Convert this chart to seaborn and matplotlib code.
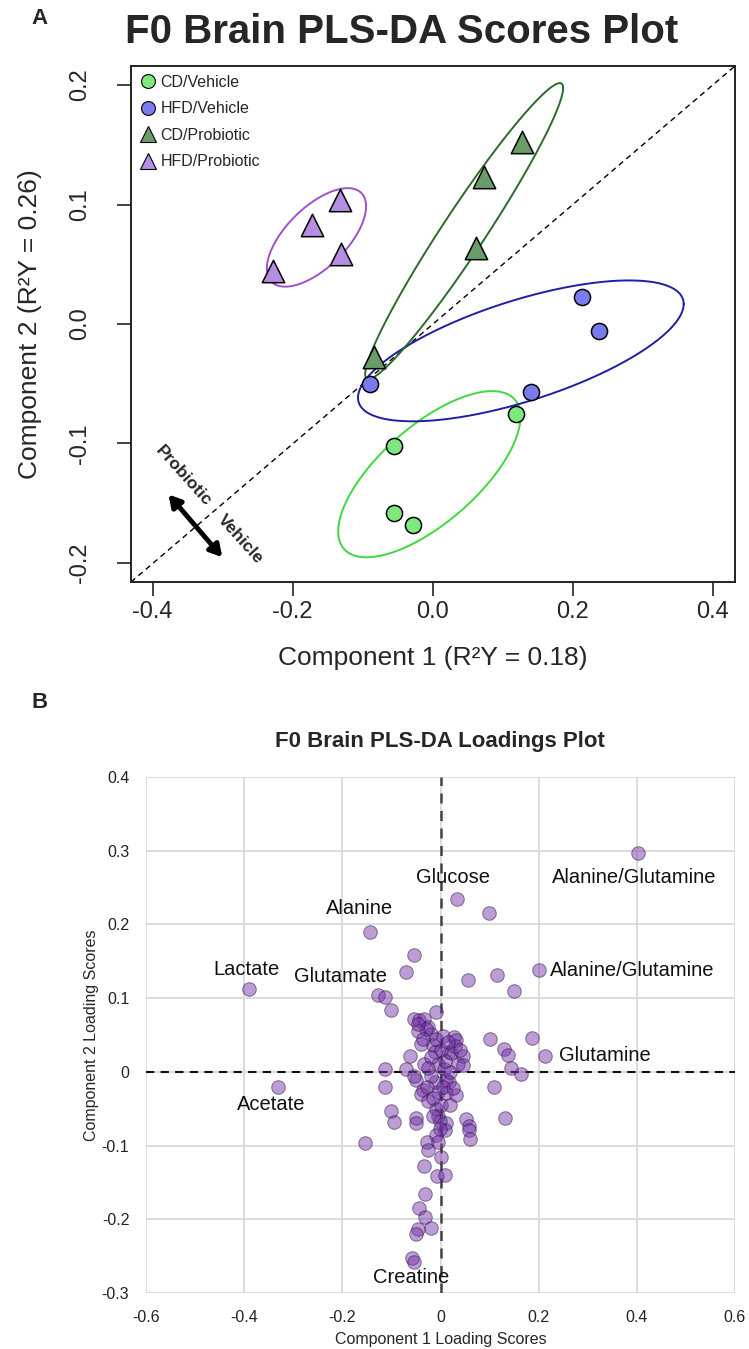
import numpy as np
import pandas as pd
import matplotlib
matplotlib.use("Agg")
import matplotlib.pyplot as plt
import seaborn as sns
from matplotlib.lines import Line2D
from matplotlib.ticker import FixedLocator, FixedFormatter

# ---------------- data: scores plot ----------------
groups = ["CD/Vehicle", "HFD/Vehicle", "CD/Probiotic", "HFD/Probiotic"]
cdveh_x = [0.119, -0.055, -0.055, -0.028]
cdveh_y = [-0.075, -0.102, -0.158, -0.168]
hfdveh_x = [0.214, 0.238, 0.141, -0.089]
hfdveh_y = [0.023, -0.006, -0.057, -0.050]
cdpro_x = [0.128, 0.074, 0.062, -0.084]
cdpro_y = [0.152, 0.123, 0.064, -0.028]
hfdpro_x = [-0.133, -0.172, -0.131, -0.228]
hfdpro_y = [0.104, 0.083, 0.059, 0.044]
score_xticks = [-0.4, -0.2, 0.0, 0.2, 0.4]
score_yticks = [-0.2, -0.1, 0.0, 0.1, 0.2]
score_xticklabels = ["-0.4", "-0.2", "0.0", "0.2", "0.4"]
score_yticklabels = ["-0.2", "-0.1", "0.0", "0.1", "0.2"]

# ---------------- data: loadings plot ----------------
load_x = [0.402, 0.200, 0.212, 0.034, -0.144, -0.391, -0.332, -0.058, -0.055, 0.098,
          0.057, 0.116, 0.149, 0.100, 0.186, 0.130, 0.138, 0.143, 0.164, 0.110,
          0.132, -0.153, -0.053, -0.070, -0.127, -0.114, -0.101, -0.009, -0.053, -0.043,
          -0.033, -0.026, -0.019, 0.005, 0.028, 0.032, -0.039, -0.016, -0.012, 0.018,
          0.022, 0.045, -0.063, -0.033, -0.005, 0.008, 0.035, 0.045, -0.114, -0.070,
          -0.049, -0.012, 0.012, 0.018, -0.114, -0.036, -0.005, 0.012, 0.032, -0.100,
          -0.094, -0.049, -0.050, -0.009, -0.005, -0.002, 0.012, 0.010, 0.052, 0.058,
          0.059, 0.060, -0.028, -0.026, 0.002, -0.033, -0.008, 0.009, -0.031, -0.044,
          -0.031, -0.020, -0.046, -0.049, -0.002, -0.030, 0.000, 0.020, -0.020, -0.040,
          0.000, 0.030, -0.020, -0.045, 0.005, -0.025, -0.010, -0.028, 0.025,
          -0.045, -0.035, -0.010, 0.015, 0.040, -0.025, 0.010, -0.055, -0.015, 0.020,
          -0.005, -0.015]
load_y = [0.297, 0.138, 0.022, 0.234, 0.190, 0.113, -0.020, -0.252, -0.258, 0.216,
          0.124, 0.131, 0.110, 0.044, 0.046, 0.031, 0.023, 0.005, -0.003, -0.020,
          -0.062, -0.097, 0.158, 0.136, 0.104, 0.101, 0.084, 0.081, 0.072, 0.070,
          0.072, 0.061, 0.052, 0.049, 0.047, 0.043, 0.038, 0.036, 0.027, 0.027,
          0.025, 0.022, 0.022, 0.011, 0.011, 0.004, 0.011, 0.009, 0.004, 0.004,
          -0.011, -0.014, -0.011, -0.014, -0.020, -0.025, -0.027, -0.029, -0.031, -0.053,
          -0.068, -0.063, -0.069, -0.051, -0.060, -0.066, -0.069, -0.079, -0.064, -0.074,
          -0.079, -0.091, -0.095, -0.106, -0.115, -0.128, -0.141, -0.140, -0.166, -0.185,
          -0.197, -0.212, -0.213, -0.220, -0.077, 0.058, 0.030, 0.000, -0.005, -0.030,
          -0.045, 0.035, 0.020, 0.055, -0.020, -0.040, -0.085, -0.020, -0.022,
          0.065, 0.045, 0.045, 0.040, 0.030, 0.005, 0.015, -0.005, -0.035, -0.045,
          -0.095, -0.060]
metab_names = ["Glucose", "Alanine/Glutamine", "Alanine/Glutamine", "Glutamine",
               "Alanine", "Lactate", "Glutamate", "Acetate", "Creatine"]
load_xticks = [-0.6, -0.4, -0.2, 0.0, 0.2, 0.4, 0.6]
load_yticks = [-0.3, -0.2, -0.1, 0.0, 0.1, 0.2, 0.3, 0.4]
load_xticklabels = ["-0.6", "-0.4", "-0.2", "0", "0.2", "0.4", "0.6"]
load_yticklabels = ["-0.3", "-0.2", "-0.1", "0", "0.1", "0.2", "0.3", "0.4"]

# ---------------- style ----------------
sns.set_style("white")
plt.rcParams["font.family"] = ["Liberation Sans", "DejaVu Sans"]
plt.rcParams["axes.unicode_minus"] = False

fig = plt.figure(figsize=(7.49, 13.49), dpi=100)

# ================= Panel A =================
axA = fig.add_axes([131 / 749, 1 - 582 / 1349, 604 / 749, 516 / 1349])
axA.set_xlim(-0.431, 0.432)
axA.set_ylim(-0.216, 0.216)

grp_x = [cdveh_x, hfdveh_x, cdpro_x, hfdpro_x]
grp_y = [cdveh_y, hfdveh_y, cdpro_y, hfdpro_y]
fills = ["#7DE87D", "#7B7BF0", "#6A9C6A", "#B58DE2"]
ell_cols = ["#3FD83F", "#1E1EA6", "#2B6B2B", "#9A52CF"]
markers = ["o", "o", "^", "^"]
sizes = [135, 135, 260, 260]

# diagonal reference line
axA.plot([0, 1], [0, 1], transform=axA.transAxes, ls=(0, (4, 3)), color="black", lw=1)

t_scale = 1.56
theta = np.linspace(0, 2 * np.pi, 300)
for gx, gy, ec in zip(grp_x, grp_y, ell_cols):
    pts = np.column_stack([gx, gy])
    m = pts.mean(axis=0)
    C = np.cov(pts.T)
    L = np.linalg.cholesky(C)
    circ = np.vstack([np.cos(theta), np.sin(theta)])
    e = m[:, None] + t_scale * L @ circ
    sns.lineplot(x=e[0], y=e[1], sort=False, ax=axA, color=ec, lw=1.4, estimator=None)

for gx, gy, fc, mk, sz, name in zip(grp_x, grp_y, fills, markers, sizes, groups):
    df = pd.DataFrame({"x": gx, "y": gy})
    sns.scatterplot(data=df, x="x", y="y", ax=axA, marker=mk, s=sz, color=fc,
                    edgecolor="black", linewidth=1.1, zorder=5)

handles = [Line2D([], [], marker=mk, ls="none", markerfacecolor=fc, markeredgecolor="black",
                  markeredgewidth=0.8, markersize=10 if mk == "o" else 11)
           for fc, mk in zip(fills, markers)]
axA.legend(handles, groups, loc="upper left", frameon=False, fontsize=11.5,
           handlelength=1.0, handletextpad=0.3, labelspacing=0.72,
           borderaxespad=0.2, borderpad=0.35)

for sp in axA.spines.values():
    sp.set_visible(True)
    sp.set_color("#222222")
    sp.set_linewidth(1.4)
axA.xaxis.set_major_locator(FixedLocator(score_xticks))
axA.xaxis.set_major_formatter(FixedFormatter(score_xticklabels))
axA.yaxis.set_major_locator(FixedLocator(score_yticks))
axA.yaxis.set_major_formatter(FixedFormatter(score_yticklabels))
axA.tick_params(axis="both", direction="out", length=10, width=1.2, color="#222222",
                labelsize=17, bottom=True, left=True)
axA.tick_params(axis="x", pad=4)
axA.tick_params(axis="y", pad=19)
for lab in axA.get_yticklabels():
    lab.set_rotation(90)
    lab.set_va("center")
axA.set_xlabel("Component 1 (R²Y = 0.18)", fontsize=19, labelpad=16)
axA.set_ylabel("Component 2 (R²Y = 0.26)", fontsize=19, labelpad=19)

# probiotic / vehicle annotation
axA.annotate("", xy=(-0.380, -0.141), xytext=(-0.298, -0.197),
             arrowprops=dict(arrowstyle="<|-|>,head_length=0.7,head_width=0.4",
                             lw=3.5, color="black"))
axA.text(-0.356, -0.127, "Probiotic", rotation=-48, ha="center", va="center",
         fontsize=12.5, fontweight="bold")
axA.text(-0.275, -0.180, "Vehicle", rotation=-48, ha="center", va="center",
         fontsize=12.5, fontweight="bold")

fig.text(402 / 749, 1 - 32 / 1349, "F0 Brain PLS-DA Scores Plot", ha="center", va="center",
         fontsize=29, fontweight="bold")
fig.text(40 / 749, 1 - 18 / 1349, "A", ha="center", va="center", fontsize=16, fontweight="bold")

# ================= Panel B =================
axB = fig.add_axes([146 / 749, 1 - 1293 / 1349, 589 / 749, 516 / 1349])
axB.set_xlim(-0.6, 0.6)
axB.set_ylim(-0.3, 0.4)
axB.xaxis.set_major_locator(FixedLocator(load_xticks))
axB.xaxis.set_major_formatter(FixedFormatter(load_xticklabels))
axB.yaxis.set_major_locator(FixedLocator(load_yticks))
axB.yaxis.set_major_formatter(FixedFormatter(load_yticklabels))
axB.grid(True, color="#D9D9D9", lw=1.3)
axB.set_axisbelow(True)
for sp in axB.spines.values():
    sp.set_visible(False)
axB.tick_params(axis="both", length=0, labelsize=11.5, pad=12, colors="#222222")

axB.axvline(0, color="#444444", ls=(0, (4, 3)), lw=1.8, zorder=1)
axB.axhline(0, color="#111111", ls=(0, (4, 3)), lw=1.5, zorder=1)

ldf = pd.DataFrame({"x": load_x, "y": load_y})
sns.scatterplot(data=ldf, x="x", y="y", ax=axB, s=95, color="#7434A8", alpha=0.48,
                edgecolor="#2E1048", linewidth=0.8, zorder=3)

label_pos = [(0.026, 0.264, "center"), (0.394, 0.263, "center"), (0.224, 0.137, "left"),
             (0.242, 0.022, "left"), (-0.164, 0.222, "center"), (-0.395, 0.139, "center"),
             (-0.203, 0.130, "center"), (-0.344, -0.044, "center"), (-0.059, -0.279, "center")]
for name, (lx, ly, ha) in zip(metab_names, label_pos):
    axB.text(lx, ly, name, ha=ha, va="center", fontsize=14.5, color="#111111", zorder=4)

axB.set_xlabel("Component 1 Loading Scores", fontsize=11.5, labelpad=5)
axB.set_ylabel("Component 2 Loading Scores", fontsize=11.5, labelpad=2)

fig.text(440 / 749, 1 - 742 / 1349, "F0 Brain PLS-DA Loadings Plot", ha="center", va="center",
         fontsize=16, fontweight="bold")
fig.text(40 / 749, 1 - 702 / 1349, "B", ha="center", va="center", fontsize=16, fontweight="bold")

fig.savefig("out.png", dpi=100)
